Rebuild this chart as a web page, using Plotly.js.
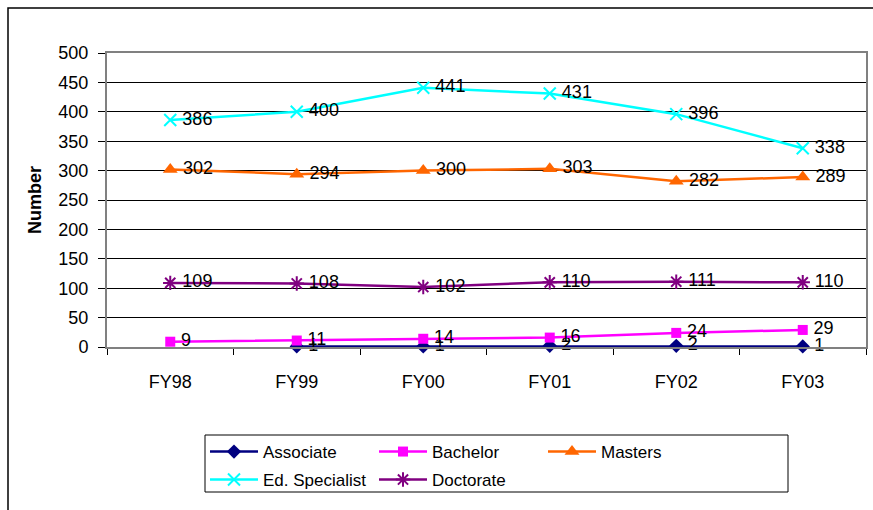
<!DOCTYPE html>
<html>
<head>
<meta charset="utf-8">
<script src="https://cdn.plot.ly/plotly-3.0.1.min.js"></script>
<style>
  html, body { margin: 0; padding: 0; background: #fff; }
  #chart { width: 873px; height: 510px; }
</style>
</head>
<body>
<div id="chart"></div>
<script>
const categories = ["FY98", "FY99", "FY00", "FY01", "FY02", "FY03"];
const associate = [null, 1, 1, 2, 2, 1];
const bachelor = [9, 11, 14, 16, 24, 29];
const masters = [302, 294, 300, 303, 282, 289];
const edSpecialist = [386, 400, 441, 431, 396, 338];
const doctorate = [109, 108, 102, 110, 111, 110];
const yTickValues = [0, 50, 100, 150, 200, 250, 300, 350, 400, 450, 500];

const W = 873, H = 510;
const M = { l: 107, r: 7, t: 53, b: 163 };
const pw = W - M.l - M.r, ph = H - M.t - M.b;
const px = x => (x - M.l) / pw;
const py = y => (H - M.b - y) / ph;

const FONT = "Liberation Sans, Arial, sans-serif";
const FS = 18;
const labelFont = { family: FONT, size: FS, color: "#000" };

function series(name, values, color, symbol, size, legendId, open) {
  const marker = { symbol: symbol, size: size, color: color };
  if (open) marker.line = { color: color, width: 2 };
  return {
    type: "scatter",
    mode: "lines+markers+text",
    name: name,
    x: categories,
    y: values,
    text: values.map(v => v === null ? "" : "\u2009" + String(v)),
    textposition: "middle right",
    textfont: labelFont,
    line: { color: color, width: 2.5 },
    marker: marker,
    cliponaxis: false,
    legend: legendId,
    hoverinfo: "x+y+name"
  };
}

const traces = [
  series("Associate", associate, "#000080", "diamond", 11, "legend", false),
  series("Bachelor", bachelor, "#FF00FF", "square", 10, "legend", false),
  series("Masters", masters, "#FF6600", "triangle-up", 13, "legend", false),
  series("Ed. Specialist", edSpecialist, "#00FFFF", "x-thin-open", 12, "legend2", true),
  series("Doctorate", doctorate, "#800080", "asterisk-open", 12, "legend2", true)
];

const legendBase = {
  orientation: "h",
  xref: "container", yref: "container",
  xanchor: "left", yanchor: "middle",
  bgcolor: "rgba(0,0,0,0)",
  borderwidth: 0,
  font: { family: FONT, size: 17, color: "#000" },
  entrywidth: 106,
  itemwidth: 48,
  tracegroupgap: 0
};

const layout = {
  width: W, height: H,
  margin: M,
  paper_bgcolor: "#fff",
  plot_bgcolor: "#fff",
  font: { family: FONT, size: FS, color: "#000" },
  showlegend: true,
  xaxis: {
    type: "category",
    range: [-0.5, 5.5],
    tickson: "boundaries",
    ticks: "outside",
    ticklen: 6,
    tickcolor: "#000",
    tickwidth: 1,
    showgrid: false,
    showline: true,
    linecolor: "#808080",
    linewidth: 2,
    mirror: true,
    zeroline: false,
    tickfont: { family: FONT, size: FS, color: "#000" },
    ticklabelstandoff: 17,
    fixedrange: true
  },
  yaxis: {
    range: [0, 500],
    tickvals: yTickValues,
    ticktext: yTickValues.map(String),
    ticks: "outside",
    ticklen: 7,
    tickcolor: "#000",
    tickwidth: 1,
    showgrid: true,
    gridcolor: "#000",
    gridwidth: 1,
    showline: true,
    linecolor: "#808080",
    linewidth: 2,
    mirror: true,
    zeroline: false,
    tickfont: { family: FONT, size: FS, color: "#000" },
    ticklabelstandoff: 6,
    title: { text: "Number", font: { family: FONT, size: 18, color: "#000", weight: "bold" }, standoff: 12 },
    fixedrange: true
  },
  legend: Object.assign({}, legendBase, { x: 205 / W, y: 1 - 452 / H }),
  legend2: Object.assign({}, legendBase, { x: 205 / W, y: 1 - 480 / H }),
  shapes: [
    { type: "rect", xref: "paper", yref: "paper",
      x0: px(8), x1: px(W + 20), y0: py(H + 20), y1: py(8),
      line: { color: "#000", width: 1.5 }, fillcolor: "rgba(0,0,0,0)", layer: "below" },
    { type: "rect", xref: "paper", yref: "paper",
      x0: px(205), x1: px(788), y0: py(492), y1: py(435),
      line: { color: "#000", width: 1 }, fillcolor: "rgba(0,0,0,0)" }
  ]
};

Plotly.newPlot("chart", traces, layout, { displayModeBar: false, staticPlot: true });
</script>
</body>
</html>
